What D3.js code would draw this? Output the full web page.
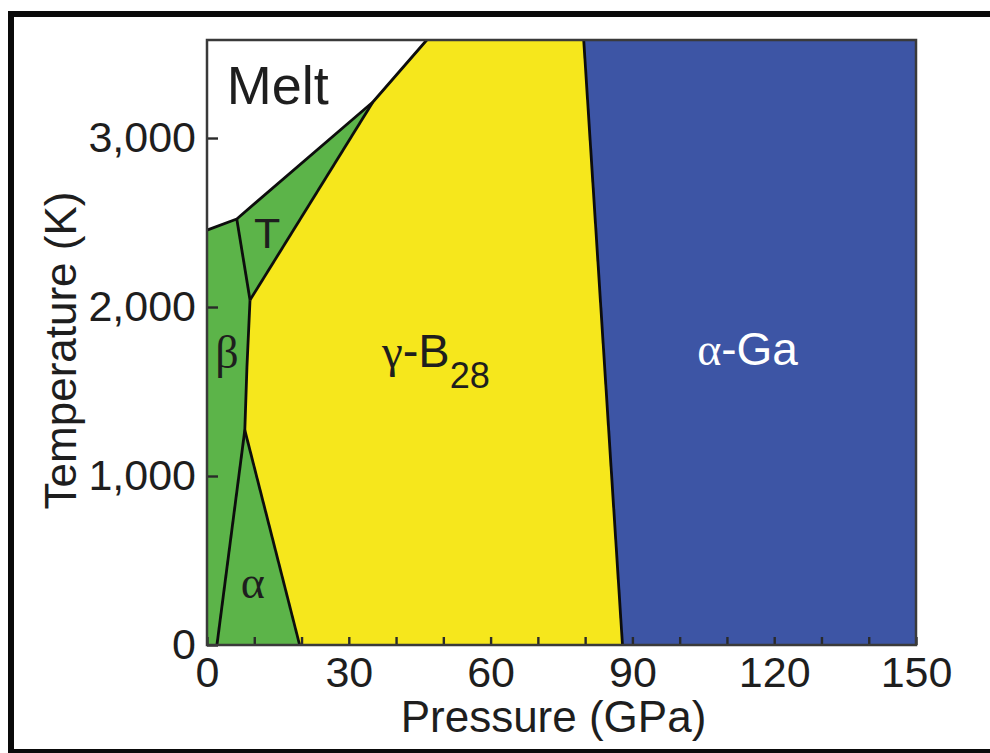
<!DOCTYPE html>
<html>
<head>
<meta charset="utf-8">
<script src="https://cdn.jsdelivr.net/npm/d3@7/dist/d3.min.js"></script>
<style>
  html, body { margin: 0; padding: 0; background: #fff; }
  svg { display: block; font-family: 'Liberation Sans', Arial, Helvetica, sans-serif; }
</style>
</head>
<body>
<svg id="chart" width="990" height="753"></svg>
<script>
/* Boron P–T phase diagram — D3 polygons on linear scales */

/* ── Axes ── */
const P_MAX = 150;
const T_MAX = 3580;
const pressureTicks = [0, 10, 20, 30, 40, 50, 60, 70, 80, 90, 100, 110, 120, 130, 140, 150];
const pressureLabels = [0, 30, 60, 90, 120, 150];
const temperatureTicks = [0, 1000, 2000, 3000];

/* ── Phase fields, [pressure GPa, temperature K] ── */
const meltField  = [[0, 2455], [6.3, 2521], [35.1, 3213], [46.5, 3580], [0, 3580]];
const tField     = [[6.3, 2521], [35.1, 3213], [9.1, 2041]];
const betaField  = [[0, 2455], [6.3, 2521], [9.1, 2041], [8.45, 1645], [8.0, 1272], [2.1, 0], [0, 0]];
const alphaField = [[2.1, 0], [8.0, 1272], [19.6, 0]];
const gammaField = [[46.5, 3580], [35.1, 3213], [9.1, 2041], [8.45, 1645], [8.0, 1272], [19.6, 0], [87.9, 0], [79.7, 3580]];
const gaField    = [[79.7, 3580], [87.9, 0], [150, 0], [150, 3580]];

/* ── Phase boundaries ── */
const meltLine      = [[0, 2455], [6.3, 2521], [35.1, 3213], [46.5, 3580]];
const betaTLine     = [[6.3, 2521], [9.1, 2041]];
const tGammaLine    = [[35.1, 3213], [9.1, 2041]];
const betaGammaLine = [[9.1, 2041], [8.45, 1645], [8.0, 1272]];
const alphaBetaLine = [[8.0, 1272], [2.1, 0]];
const alphaGamma    = [[8.0, 1272], [19.6, 0]];
const gammaGaLine   = [[79.7, 3580], [87.9, 0]];

/* ── Labels (anchor in data coords) ── */
const phaseLabels = [
  { p: 4.2,   t: 3201, size: 54, fill: '#1e1e1e', anchor: 'start',  parts: [{ s: 'Melt' }] },
  { p: 12.7,  t: 2349, size: 43, fill: '#1e1e1e', anchor: 'middle', parts: [{ s: 'T' }] },
  { p: 4.2,   t: 1639, size: 46, fill: '#1e1e1e', anchor: 'middle', parts: [{ s: 'β', serif: true }] },
  { p: 9.7,   t: 278,  size: 46, fill: '#1e1e1e', anchor: 'middle', parts: [{ s: 'α', serif: true }] },
  { p: 37.0,  t: 1645, size: 47, fill: '#1e1e1e', anchor: 'start',
    parts: [{ s: 'γ', serif: true }, { s: '-B' }, { s: '28', sub: true }] },
  { p: 103.7, t: 1657, size: 46, fill: '#ffffff', anchor: 'start',
    parts: [{ s: 'α', serif: true }, { s: '-Ga' }] },
];

const COLORS = { melt: '#ffffff', green: '#5cb449', yellow: '#f6e71c', blue: '#3d55a5' };

const svg = d3.select('#chart');

/* outer frame */
svg.append('rect')
  .attr('x', 11).attr('y', 14)
  .attr('width', 1000).attr('height', 738)
  .attr('fill', 'none')
  .attr('stroke', '#0a0a0a')
  .attr('stroke-width', 6);

const x = d3.scaleLinear().domain([0, P_MAX]).range([207, 916]);
const y = d3.scaleLinear().domain([0, T_MAX]).range([645, 40]);

const line = d3.line().x(d => x(d[0])).y(d => y(d[1]));

/* ── Fields ── */
const fields = [
  { pts: meltField,  fill: COLORS.melt },
  { pts: betaField,  fill: COLORS.green },
  { pts: tField,     fill: COLORS.green },
  { pts: alphaField, fill: COLORS.green },
  { pts: gammaField, fill: COLORS.yellow },
  { pts: gaField,    fill: COLORS.blue },
];
svg.append('g').selectAll('path')
  .data(fields)
  .join('path')
  .attr('d', d => line(d.pts) + 'Z')
  .attr('fill', d => d.fill)
  .attr('stroke', d => d.fill)
  .attr('stroke-width', 0.6);

/* ── Axes (inward ticks) ── */
const xAxis = d3.axisBottom(x)
  .tickValues(pressureTicks)
  .tickSizeInner(-8)
  .tickSizeOuter(0)
  .tickPadding(11)
  .tickFormat(d => pressureLabels.includes(d) ? d : '');

const yAxis = d3.axisLeft(y)
  .tickValues(temperatureTicks)
  .tickSizeInner(-11)
  .tickSizeOuter(0)
  .tickPadding(11)
  .tickFormat(d3.format(','));

const gx = svg.append('g')
  .attr('transform', `translate(0,${y(0)})`)
  .call(xAxis);
const gy = svg.append('g')
  .attr('transform', `translate(${x(0)},0)`)
  .call(yAxis);

[gx, gy].forEach(g => {
  g.select('.domain').remove();
  g.selectAll('.tick line').attr('stroke', '#2a2a2a').attr('stroke-width', 2.4);
  g.selectAll('.tick text')
    .attr('fill', '#1e1e1e')
    .attr('font-size', 43)
    .attr('font-family', "'Liberation Sans', Arial, sans-serif");
  /* minor ticks carry no label */
  g.selectAll('.tick text').filter(function () { return this.textContent === ''; }).remove();
});

/* ── Boundaries ── */
const boundaries = [meltLine, betaTLine, tGammaLine, betaGammaLine, alphaBetaLine, alphaGamma, gammaGaLine];
svg.append('g').selectAll('path')
  .data(boundaries)
  .join('path')
  .attr('d', line)
  .attr('fill', 'none')
  .attr('stroke', '#0d0d0d')
  .attr('stroke-width', 2.8)
  .attr('stroke-linejoin', 'round');

/* plot frame */
svg.append('rect')
  .attr('x', x(0)).attr('y', y(T_MAX))
  .attr('width', x(P_MAX) - x(0))
  .attr('height', y(0) - y(T_MAX))
  .attr('fill', 'none')
  .attr('stroke', '#3a3a3a')
  .attr('stroke-width', 2.5);

/* ── Phase labels ── */
phaseLabels.forEach(lb => {
  const t = svg.append('text')
    .attr('x', x(lb.p))
    .attr('y', y(lb.t))
    .attr('text-anchor', lb.anchor)
    .attr('fill', lb.fill)
    .attr('font-size', lb.size);
  lb.parts.forEach(pt => {
    const ts = t.append('tspan').text(pt.s);
    if (pt.serif) ts.attr('font-family', "'Liberation Serif', 'DejaVu Serif', serif");
    if (pt.sub) ts.attr('font-size', lb.size * 0.77).attr('dy', 21);
  });
});

/* ── Axis titles ── */
svg.append('text')
  .attr('x', (x(0) + x(P_MAX)) / 2 - 8)
  .attr('y', 732)
  .attr('text-anchor', 'middle')
  .attr('fill', '#1e1e1e')
  .attr('font-size', 44)
  .text('Pressure (GPa)');

svg.append('text')
  .attr('transform', `translate(76,${(y(0) + y(T_MAX)) / 2 + 8}) rotate(-90)`)
  .attr('text-anchor', 'middle')
  .attr('fill', '#1e1e1e')
  .attr('font-size', 44)
  .text('Temperature (K)');
</script>
</body>
</html>
